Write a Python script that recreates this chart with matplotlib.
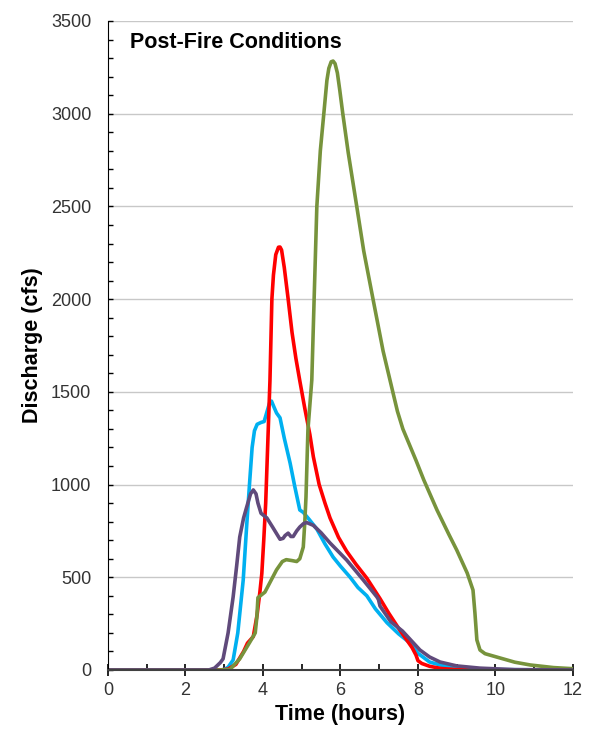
import numpy as np
import matplotlib
matplotlib.use("Agg")
import matplotlib.pyplot as plt
from matplotlib.ticker import MultipleLocator

plt.rcParams['font.family'] = ['Liberation Sans', 'DejaVu Sans']

# Hydrographs (time in hours, discharge in cfs)
red_t = [0, 2.9, 3.1, 3.3, 3.5, 3.6, 3.75, 3.85, 3.92, 3.97, 4.02, 4.07, 4.12, 4.18, 4.23,
         4.27, 4.33, 4.4, 4.44, 4.48, 4.55, 4.65, 4.75, 4.85, 4.95, 5.08, 5.21, 5.3, 5.45,
         5.6, 5.73, 5.95, 6.16, 6.4, 6.68, 6.85, 7.02, 7.25, 7.5, 7.7, 7.85, 7.95, 8.0,
         8.1, 8.3, 8.6, 9.0, 10, 12]
red_q = [0, 0, 5, 30, 100, 145, 180, 300, 420, 520, 700, 900, 1200, 1560, 2000,
         2130, 2240, 2280, 2281, 2265, 2170, 2000, 1820, 1680, 1560, 1410, 1270, 1150, 1000,
         900, 820, 715, 640, 570, 495, 440, 385, 305, 225, 165, 120, 80, 50,
         35, 20, 8, 2, 0, 0]

cyan_t = [0, 2.9, 3.0, 3.1, 3.23, 3.35, 3.49, 3.58, 3.66, 3.72, 3.78, 3.85, 3.95, 4.03,
          4.1, 4.17, 4.22, 4.28, 4.35, 4.44, 4.55, 4.7, 4.82, 4.95, 5.04, 5.2, 5.39, 5.6,
          5.81, 6.0, 6.25, 6.45, 6.68, 6.9, 7.2, 7.5, 7.8, 8.0, 8.3, 8.7, 9.2, 10, 12]
cyan_q = [0, 0, 3, 15, 54, 200, 485, 780, 1025, 1200, 1290, 1325, 1335, 1340,
          1390, 1440, 1450, 1420, 1386, 1360, 1250, 1116, 990, 863, 850, 810, 760, 680,
          609, 560, 500, 445, 400, 330, 255, 195, 145, 90, 43, 20, 10, 2, 0]

green_t = [0, 2.9, 3.15, 3.4, 3.66, 3.8, 3.84, 3.87, 4.05, 4.2, 4.35, 4.5, 4.6, 4.75, 4.87,
           4.95, 5.04, 5.08, 5.11, 5.16, 5.26, 5.32, 5.39, 5.48, 5.57, 5.65, 5.7, 5.76, 5.81,
           5.86, 5.92, 5.98, 6.06, 6.2, 6.42, 6.6, 6.84, 7.1, 7.35, 7.47, 7.61, 7.78, 7.95,
           8.15, 8.49, 8.8, 9.0, 9.27, 9.42, 9.47, 9.52, 9.6, 9.73, 10.03, 10.5, 10.9, 11.5, 12]
green_q = [0, 0, 3, 60, 150, 200, 280, 390, 420, 480, 540, 585, 595, 590, 585,
           600, 663, 800, 933, 1294, 1564, 2000, 2500, 2800, 3000, 3180, 3245, 3280, 3284,
           3270, 3220, 3130, 3000, 2790, 2500, 2260, 2000, 1720, 1500, 1395, 1300, 1215, 1130,
           1025, 863, 730, 647, 523, 431, 307, 162, 108, 88, 70, 42, 27, 13, 7]

purple_t = [0, 2.6, 2.75, 2.9, 2.97, 3.1, 3.23, 3.32, 3.4, 3.5, 3.58, 3.68, 3.75, 3.82,
            3.87, 3.95, 4.1, 4.25, 4.44, 4.52, 4.57, 4.65, 4.72, 4.78, 4.87, 4.95, 5.05,
            5.13, 5.3, 5.5, 5.73, 6.16, 6.59, 6.94, 6.98, 7.02, 7.3, 7.6, 8.05, 8.3, 8.57,
            9.0, 9.6, 10.5, 12]
purple_q = [0, 0, 10, 40, 60, 200, 394, 560, 717, 820, 879, 950, 971, 950,
            900, 845, 820, 770, 705, 710, 725, 738, 720, 720, 750, 771, 790,
            795, 780, 740, 685, 593, 485, 394, 380, 345, 260, 210, 108, 70, 43,
            22, 10, 2, 0]

fig = plt.figure(figsize=(5.91, 7.34), dpi=100)
ax = fig.add_axes([0.1827, 0.0872, 0.7868, 0.8842])

lw = 2.6
ax.plot(cyan_t, cyan_q, color='#00B0F0', lw=lw, solid_joinstyle='round')
ax.plot(red_t, red_q, color='#FF0000', lw=lw, solid_joinstyle='round')
ax.plot(green_t, green_q, color='#77933C', lw=lw, solid_joinstyle='round')
ax.plot(purple_t, purple_q, color='#604A7B', lw=lw, solid_joinstyle='round')

ax.set_xlim(0, 12)
ax.set_ylim(0, 3500)
ax.xaxis.set_major_locator(MultipleLocator(2))
ax.xaxis.set_minor_locator(MultipleLocator(1))
ax.yaxis.set_major_locator(MultipleLocator(500))
ax.yaxis.set_minor_locator(MultipleLocator(100))

ax.grid(axis='y', which='major', color='#C8C8C8', lw=1)
ax.set_axisbelow(True)
ax.yaxis.get_gridlines()[-1].set_visible(False)

for s in ['top', 'right']:
    ax.spines[s].set_visible(False)
ax.spines['left'].set_color('black')
ax.spines['bottom'].set_color('#404040')
ax.spines['bottom'].set_linewidth(1.5)

ax.tick_params(axis='x', which='major', direction='inout', length=9, width=1.2,
               color='black', labelsize=13, labelcolor='#333333', pad=4)
ax.tick_params(axis='x', which='minor', direction='in', length=4, width=1.2, color='black')
ax.tick_params(axis='y', which='both', direction='in', length=3.5, width=1, color='black')
ax.tick_params(axis='y', which='major', labelsize=13, labelcolor='#333333', pad=12)

ax.set_xlabel('Time (hours)', fontsize=15.5, fontweight='bold', labelpad=4)
ax.set_ylabel('Discharge (cfs)', fontsize=15.5, fontweight='bold', labelpad=6)

ax.text(0.047, 0.983, 'Post-Fire Conditions', transform=ax.transAxes,
        fontsize=15.5, fontweight='bold', va='top', ha='left')

fig.savefig('out.png', dpi=100)
